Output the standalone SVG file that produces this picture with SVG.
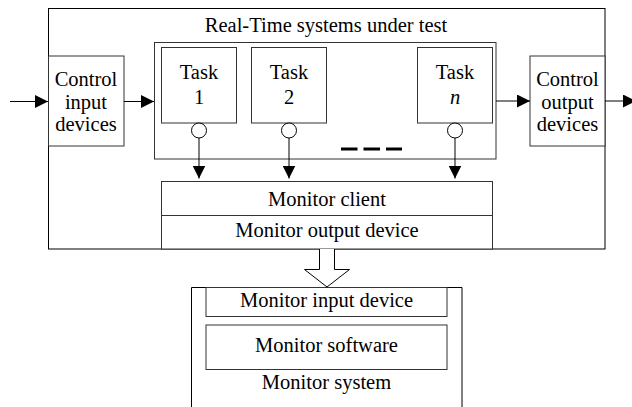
<svg xmlns="http://www.w3.org/2000/svg" width="632" height="407" viewBox="0 0 632 407">
<style>
.t text{font-size:20.5px;fill:#000;text-anchor:middle}
.box{fill:#fff;stroke:#000;stroke-width:1}
.ibox{fill:#fff;stroke:#333;stroke-width:1}
.ln{fill:none;stroke:#000;stroke-width:1}
</style>
<defs>
<marker id="ah" markerUnits="userSpaceOnUse" viewBox="0 0 13 13" markerWidth="13" markerHeight="13" refX="13" refY="6.5" orient="auto">
<path d="M0,0 L13,6.5 L0,13 z" fill="#000"/>
</marker>
</defs>
<g class="t" font-family="Liberation Serif, DejaVu Serif, serif">
<g id="rts">
<rect class="box" x="48.5" y="8.5" width="556.5" height="240.5"/>
<text x="326" y="31.5">Real-Time systems under test</text>
</g>
<g id="tasks-group">
<rect class="ibox" x="154.5" y="42.5" width="341.5" height="116.5"/>
<path d="M341,149 H357.5 M363.5,149 H380 M386,149 H402" stroke="#000" stroke-width="3"/>
</g>
<g id="task1">
<rect class="ibox" x="161.5" y="47.5" width="75" height="75.5"/>
<text x="199" y="78.5">Task</text>
<text x="199" y="103.5">1</text>
<circle class="box" cx="199" cy="130.5" r="7.5"/>
</g>
<g id="task2">
<rect class="ibox" x="251.5" y="47.5" width="75" height="75.5"/>
<text x="289" y="78.5">Task</text>
<text x="289" y="103.5">2</text>
<circle class="box" cx="289" cy="130.5" r="7.5"/>
</g>
<g id="taskn">
<rect class="ibox" x="417.5" y="47.5" width="75" height="75.5"/>
<text x="455" y="78.5">Task</text>
<text x="455" y="103.5" font-style="italic">n</text>
<circle class="box" cx="455" cy="130.5" r="7.5"/>
</g>
<g id="control-input">
<rect class="ibox" x="48.5" y="56" width="75.5" height="90"/>
<text x="86" y="85.5">Control</text>
<text x="86" y="108.5">input</text>
<text x="86" y="131">devices</text>
</g>
<g id="control-output">
<rect class="ibox" x="530" y="56" width="75" height="90"/>
<text x="567.5" y="85.5">Control</text>
<text x="567.5" y="108.5">output</text>
<text x="567.5" y="131">devices</text>
</g>
<g id="monitor-client">
<rect class="ibox" x="161.5" y="181.5" width="331" height="34"/>
<text x="327" y="205.5">Monitor client</text>
</g>
<g id="monitor-output">
<rect class="ibox" x="161.5" y="215.5" width="331" height="33.5"/>
<text x="327" y="236.5">Monitor output device</text>
</g>
<g id="monitor-system">
<path class="ln" d="M191.5,407 V287.5 H462 V407"/>
<text x="326.5" y="389">Monitor system</text>
</g>
<g id="monitor-input">
<rect class="ibox" x="206" y="287.5" width="241" height="29"/>
<text x="326.5" y="306.5">Monitor input device</text>
</g>
<g id="monitor-software">
<rect class="ibox" x="206" y="325" width="241" height="44.5"/>
<text x="326.5" y="351.5">Monitor software</text>
</g>
</g>
<g id="connectors">
<line class="ln" x1="10" y1="101.5" x2="48" y2="101.5" marker-end="url(#ah)"/>
<line class="ln" x1="124" y1="101.5" x2="154" y2="101.5" marker-end="url(#ah)"/>
<line class="ln" x1="496" y1="101" x2="530" y2="101" marker-end="url(#ah)"/>
<line class="ln" x1="605" y1="101" x2="636" y2="101" marker-end="url(#ah)"/>
<line class="ln" x1="199" y1="138" x2="199" y2="178.5" marker-end="url(#ah)"/>
<line class="ln" x1="289" y1="138" x2="289" y2="178.5" marker-end="url(#ah)"/>
<line class="ln" x1="455" y1="138" x2="455" y2="178.5" marker-end="url(#ah)"/>
<path d="M319.5,249 V269.5 H304.5 L327,287 L349.5,269.5 H334.5 V249" fill="#fff" stroke="#000" stroke-width="1"/>
</g>
</svg>
